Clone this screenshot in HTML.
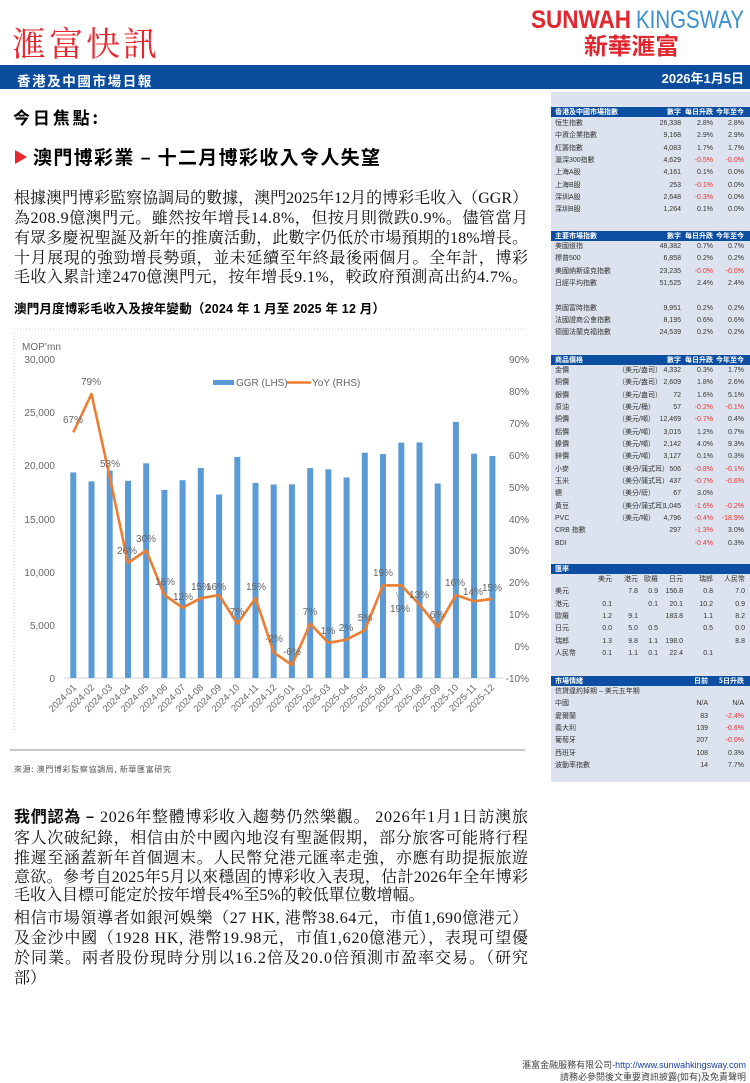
<!DOCTYPE html>
<html><head><meta charset="utf-8">
<style>
*{margin:0;padding:0;box-sizing:border-box}
body{width:750px;height:1083px;position:relative;background:#fff;font-family:"Liberation Sans","Noto Sans CJK TC",sans-serif;overflow:hidden}
.abs{position:absolute}
.sb{position:absolute;left:551px;top:92px;width:199px;height:690px;background:#dde3ee}
.t{position:absolute;left:0;width:199px}
.h{height:10px;background:#0b4ea2;color:#fff;font-weight:bold;font-size:7px;line-height:10px;position:relative;font-family:"Noto Sans CJK TC","Liberation Sans",sans-serif}
.r{height:12.35px;position:relative;font-size:7px;line-height:12.35px;color:#333;font-family:"Liberation Sans","Noto Sans CJK TC",sans-serif}
.t span{position:absolute;white-space:nowrap}
.n{left:4px}.u{left:67px}.a{right:69px}.b{right:37px}.c{right:6px}
.c1{right:138px}.c2{right:112px}.c3{right:92px}.c4{right:67px}.c5{right:37px}.c6{right:5px}
.d{right:42px}
.m{color:#f03030}
</style></head><body>

<!-- header -->
<div class="abs" style="left:12px;top:22px;font-family:'Noto Serif CJK SC',serif;font-size:34px;color:#e8262e;letter-spacing:3px;line-height:40px">滙富快訊</div>
<svg class="abs" style="left:0;top:0" width="750" height="92">
<text x="531" y="28" font-family="Liberation Sans,sans-serif" font-weight="bold" font-size="25" fill="#e0262e" textLength="100" lengthAdjust="spacingAndGlyphs">SUNWAH</text>
<text x="636" y="28" font-family="Liberation Sans,sans-serif" font-size="25" fill="#3a8fd0" textLength="108" lengthAdjust="spacingAndGlyphs">KINGSWAY</text>
<text x="584" y="54" font-family="Noto Sans CJK TC,sans-serif" font-weight="bold" font-size="23" fill="#e0262e" textLength="95" lengthAdjust="spacingAndGlyphs">新華滙富</text>
</svg>
<div class="abs" style="left:0;top:65px;width:750px;height:24px;background:#0b4c9c"></div>
<div class="abs" style="left:17px;top:72px;color:#fff;font-weight:bold;font-size:13.5px;letter-spacing:1.6px;line-height:16px;font-family:'Noto Sans CJK TC',sans-serif">香港及中國市場日報</div>
<div class="abs" style="right:6px;top:70px;color:#fff;font-weight:bold;font-size:13px;line-height:18px;font-family:'Liberation Sans','Noto Sans CJK TC',sans-serif">2026年1月5日</div>

<!-- headings & text -->
<svg class="abs" style="left:0;top:0" width="550" height="1083">
<text x="13" y="124" font-family="Noto Sans CJK TC,sans-serif" font-weight="bold" font-size="17" fill="#000" textLength="85" lengthAdjust="spacing">今日焦點:</text>
<polygon points="15,150 27,157 15,164" fill="#e8262e"/>
<text x="33" y="164" font-family="Noto Sans CJK TC,sans-serif" font-weight="bold" font-size="19" fill="#000" textLength="347" lengthAdjust="spacing">澳門博彩業 – 十二月博彩收入令人失望</text>
<g font-family="Liberation Serif,Noto Serif CJK SC,serif" font-size="16" fill="#111">
<text x="14" y="203" textLength="514" lengthAdjust="spacing">根據澳門博彩監察協調局的數據，澳門2025年12月的博彩毛收入（GGR）</text>
<text x="14" y="223" textLength="514" lengthAdjust="spacing">為208.9億澳門元。雖然按年增長14.8%，但按月則微跌0.9%。儘管當月</text>
<text x="14" y="243" textLength="514" lengthAdjust="spacing">有眾多慶祝聖誕及新年的推廣活動，此數字仍低於市場預期的18%增長。</text>
<text x="14" y="263" textLength="514" lengthAdjust="spacing">十月展現的強勁增長勢頭，並未延續至年終最後兩個月。全年計，博彩</text>
<text x="14" y="282" textLength="514" lengthAdjust="spacing">毛收入累計達2470億澳門元，按年增長9.1%，較政府預測高出約4.7%。</text>
<text x="14" y="822" textLength="514" lengthAdjust="spacing"><tspan font-weight="bold" font-family="Noto Sans CJK TC,sans-serif">我們認為 –</tspan> 2026年整體博彩收入趨勢仍然樂觀。 2026年1月1日訪澳旅</text>
<text x="14" y="843" textLength="514" lengthAdjust="spacing">客人次破紀錄，相信由於中國內地沒有聖誕假期，部分旅客可能將行程</text>
<text x="14" y="863" textLength="514" lengthAdjust="spacing">推遲至涵蓋新年首個週末。人民幣兌港元匯率走強，亦應有助提振旅遊</text>
<text x="14" y="882" textLength="514" lengthAdjust="spacing">意欲。參考自2025年5月以來穩固的博彩收入表現，估計2026年全年博彩</text>
<text x="14" y="900">毛收入目標可能定於按年增長4%至5%的較低單位數增幅。</text>
<text x="14" y="923" textLength="514" lengthAdjust="spacing">相信市場領導者如銀河娛樂（27 HK, 港幣38.64元，市值1,690億港元）</text>
<text x="14" y="943" textLength="514" lengthAdjust="spacing">及金沙中國（1928 HK, 港幣19.98元，市值1,620億港元），表現可望優</text>
<text x="14" y="963" textLength="514" lengthAdjust="spacing">於同業。兩者股份現時分別以16.2倍及20.0倍預測市盈率交易。（研究</text>
<text x="14" y="983">部）</text>
</g>
<text x="14" y="313" font-family="Liberation Sans,Noto Sans CJK TC,sans-serif" font-weight="bold" font-size="12.5" fill="#000" textLength="371" lengthAdjust="spacing">澳門月度博彩毛收入及按年變動（2024 年 1 月至 2025 年 12 月）</text>

<!-- chart frame -->
<line x1="14" y1="329" x2="525" y2="329" stroke="#ccc" stroke-dasharray="1,2"/>
<line x1="14" y1="333" x2="14" y2="735" stroke="#ccc" stroke-dasharray="1,2"/>
<line x1="10" y1="750" x2="525" y2="750" stroke="#c8c8c8" stroke-width="2"/>
<text x="14" y="772" font-family="Noto Sans CJK TC,sans-serif" font-size="8" fill="#555" textLength="157" lengthAdjust="spacing">來源: 澳門博彩監察協調局, 新華匯富研究</text>

<g font-family="Liberation Sans,sans-serif" font-size="10" fill="#666">
<text x="22" y="350">MOP’mn</text>
<g text-anchor="end">
<text x="55" y="363">30,000</text><text x="55" y="416">25,000</text><text x="55" y="469">20,000</text>
<text x="55" y="523">15,000</text><text x="55" y="576">10,000</text><text x="55" y="629">5,000</text><text x="55" y="682">0</text>
<text x="529" y="363">90%</text><text x="529" y="395">80%</text><text x="529" y="427">70%</text><text x="529" y="459">60%</text>
<text x="529" y="491">50%</text><text x="529" y="523">40%</text><text x="529" y="554">30%</text><text x="529" y="586">20%</text>
<text x="529" y="618">10%</text><text x="529" y="650">0%</text><text x="529" y="682">-10%</text>
</g>
</g>
<line x1="64" y1="678" x2="503" y2="678" stroke="#d0d0d0"/>
<!-- legend -->
<rect x="213" y="380" width="21" height="5" fill="#5b9bd5"/>
<text x="236" y="386" font-family="Liberation Sans,sans-serif" font-size="10" fill="#666">GGR (LHS)</text>
<line x1="287" y1="382.5" x2="311" y2="382.5" stroke="#ed7d31" stroke-width="2.5"/>
<text x="312" y="386" font-family="Liberation Sans,sans-serif" font-size="10" fill="#666">YoY (RHS)</text>
<!-- bars -->
<g fill="#5b9bd5">
<rect x="70.3" y="472.4" width="6" height="205.6"/>
<rect x="88.5" y="481.4" width="6" height="196.6"/>
<rect x="106.7" y="470.6" width="6" height="207.4"/>
<rect x="125" y="480.8" width="6" height="197.2"/>
<rect x="143.2" y="463.3" width="6" height="214.7"/>
<rect x="161.4" y="489.9" width="6" height="188.1"/>
<rect x="179.6" y="480.2" width="6" height="197.8"/>
<rect x="197.8" y="467.9" width="6" height="210.1"/>
<rect x="216.1" y="494.5" width="6" height="183.5"/>
<rect x="234.3" y="456.9" width="6" height="221.1"/>
<rect x="252.5" y="482.9" width="6" height="195.1"/>
<rect x="270.7" y="484.5" width="6" height="193.5"/>
<rect x="288.9" y="484.3" width="6" height="193.7"/>
<rect x="307.2" y="468.1" width="6" height="209.9"/>
<rect x="325.4" y="469.3" width="6" height="208.7"/>
<rect x="343.6" y="477.5" width="6" height="200.5"/>
<rect x="361.8" y="452.7" width="6" height="225.3"/>
<rect x="380" y="454.1" width="6" height="223.9"/>
<rect x="398.3" y="442.7" width="6" height="235.3"/>
<rect x="416.5" y="442.4" width="6" height="235.6"/>
<rect x="434.7" y="483.5" width="6" height="194.5"/>
<rect x="452.9" y="421.9" width="6" height="256.1"/>
<rect x="471.1" y="453.7" width="6" height="224.3"/>
<rect x="489.4" y="456" width="6" height="222"/>
</g>
<polyline fill="none" stroke="#ed7d31" stroke-width="2.6" stroke-linejoin="round" points="73.3,432.3 91.5,394 109.7,476.9 128,563.1 146.2,550.3 164.4,595 182.6,607.7 200.8,598.2 219.1,595 237.3,623.7 255.5,598.2 273.7,652.4 291.9,665.1 310.2,623.7 328.4,642.8 346.6,639.6 364.8,630.1 383,585.4 401.3,585.4 419.5,604.5 437.7,626.9 455.9,595 474.1,601.3 492.4,598.8"/>
<line x1="396" y1="592" x2="399" y2="600" stroke="#999" stroke-width="0.7"/>
<g font-family="Liberation Sans,sans-serif" font-size="10" fill="#666" text-anchor="middle">
<text x="73" y="423">67%</text><text x="91" y="385">79%</text><text x="110" y="467">53%</text>
<text x="127" y="554">26%</text><text x="146" y="542">30%</text><text x="165" y="585">16%</text>
<text x="183" y="600">12%</text><text x="201" y="590">15%</text><text x="216" y="590">16%</text>
<text x="237" y="615">7%</text><text x="256" y="590">15%</text><text x="274" y="642">-2%</text>
<text x="292" y="655">-6%</text><text x="310" y="615">7%</text><text x="328" y="634">1%</text>
<text x="346" y="631">2%</text><text x="365" y="621">5%</text><text x="383" y="576">19%</text>
<text x="400" y="612">19%</text><text x="419" y="598">13%</text><text x="437" y="618">6%</text>
<text x="455" y="586">16%</text><text x="473" y="595">14%</text><text x="492" y="591">15%</text>
</g>
<g font-family="Liberation Sans,sans-serif" font-size="9.5" fill="#666" text-anchor="end">
<text transform="translate(77,688) rotate(-45)">2024-01</text>
<text transform="translate(95,688) rotate(-45)">2024-02</text>
<text transform="translate(113,688) rotate(-45)">2024-03</text>
<text transform="translate(131,688) rotate(-45)">2024-04</text>
<text transform="translate(149,688) rotate(-45)">2024-05</text>
<text transform="translate(168,688) rotate(-45)">2024-06</text>
<text transform="translate(186,688) rotate(-45)">2024-07</text>
<text transform="translate(204,688) rotate(-45)">2024-08</text>
<text transform="translate(222,688) rotate(-45)">2024-09</text>
<text transform="translate(240,688) rotate(-45)">2024-10</text>
<text transform="translate(259,688) rotate(-45)">2024-11</text>
<text transform="translate(277,688) rotate(-45)">2024-12</text>
<text transform="translate(295,688) rotate(-45)">2025-01</text>
<text transform="translate(313,688) rotate(-45)">2025-02</text>
<text transform="translate(331,688) rotate(-45)">2025-03</text>
<text transform="translate(350,688) rotate(-45)">2025-04</text>
<text transform="translate(368,688) rotate(-45)">2025-05</text>
<text transform="translate(386,688) rotate(-45)">2025-06</text>
<text transform="translate(404,688) rotate(-45)">2025-07</text>
<text transform="translate(423,688) rotate(-45)">2025-08</text>
<text transform="translate(441,688) rotate(-45)">2025-09</text>
<text transform="translate(459,688) rotate(-45)">2025-10</text>
<text transform="translate(477,688) rotate(-45)">2025-11</text>
<text transform="translate(495,688) rotate(-45)">2025-12</text>
</g>
</svg>

<!-- sidebar -->
<div class="sb">
<div class="t" style="top:15px">
<div class="h"><span class="n">香港及中國市場指數</span><span class="a">數字</span><span class="b">每日升跌</span><span class="c">今年至今</span></div>
<div style="height:1px"></div>
<div class="r"><span class="n">恒生指數</span><span class="a">26,338</span><span class="b">2.8%</span><span class="c">2.8%</span></div>
<div class="r"><span class="n">中資企業指數</span><span class="a">9,168</span><span class="b">2.9%</span><span class="c">2.9%</span></div>
<div class="r"><span class="n">紅籌指數</span><span class="a">4,083</span><span class="b">1.7%</span><span class="c">1.7%</span></div>
<div class="r"><span class="n">滬深300指數</span><span class="a">4,629</span><span class="b m">-0.5%</span><span class="c m">-0.0%</span></div>
<div class="r"><span class="n">上海A股</span><span class="a">4,161</span><span class="b">0.1%</span><span class="c">0.0%</span></div>
<div class="r"><span class="n">上海B股</span><span class="a">253</span><span class="b m">-0.1%</span><span class="c">0.0%</span></div>
<div class="r"><span class="n">深圳A股</span><span class="a">2,648</span><span class="b m">-0.3%</span><span class="c">0.0%</span></div>
<div class="r"><span class="n">深圳B股</span><span class="a">1,264</span><span class="b">0.1%</span><span class="c">0.0%</span></div>
</div>
<div class="t" style="top:139px">
<div class="h"><span class="n">主要市場指數</span><span class="a">數字</span><span class="b">每日升跌</span><span class="c">今年至今</span></div>
<div class="r"><span class="n">美國道指</span><span class="a">48,382</span><span class="b">0.7%</span><span class="c">0.7%</span></div>
<div class="r"><span class="n">標普500</span><span class="a">6,858</span><span class="b">0.2%</span><span class="c">0.2%</span></div>
<div class="r"><span class="n">美國納斯達克指數</span><span class="a">23,235</span><span class="b m">-0.0%</span><span class="c m">-0.0%</span></div>
<div class="r"><span class="n">日經平均指數</span><span class="a">51,525</span><span class="b">2.4%</span><span class="c">2.4%</span></div>
<div class="r"></div>
<div class="r"><span class="n">英國富時指數</span><span class="a">9,951</span><span class="b">0.2%</span><span class="c">0.2%</span></div>
<div class="r"><span class="n">法國證商公會指數</span><span class="a">8,195</span><span class="b">0.6%</span><span class="c">0.6%</span></div>
<div class="r"><span class="n">德國法蘭克福指數</span><span class="a">24,539</span><span class="b">0.2%</span><span class="c">0.2%</span></div>
</div>
<div class="t" style="top:263px">
<div class="h"><span class="n">商品價格</span><span class="a">數字</span><span class="b">每日升跌</span><span class="c">今年至今</span></div>
<div class="r"><span class="n">金價</span><span class="u">（美元/盎司）</span><span class="a">4,332</span><span class="b">0.3%</span><span class="c">1.7%</span></div>
<div class="r"><span class="n">銅價</span><span class="u">（美元/盎司）</span><span class="a">2,609</span><span class="b">1.8%</span><span class="c">2.6%</span></div>
<div class="r"><span class="n">銀價</span><span class="u">（美元/盎司）</span><span class="a">72</span><span class="b">1.6%</span><span class="c">5.1%</span></div>
<div class="r"><span class="n">原油</span><span class="u">（美元/桶）</span><span class="a">57</span><span class="b m">-0.2%</span><span class="c m">-0.1%</span></div>
<div class="r"><span class="n">銅價</span><span class="u">（美元/噸）</span><span class="a">12,469</span><span class="b m">-0.7%</span><span class="c">0.4%</span></div>
<div class="r"><span class="n">鋁價</span><span class="u">（美元/噸）</span><span class="a">3,015</span><span class="b">1.2%</span><span class="c">0.7%</span></div>
<div class="r"><span class="n">鎳價</span><span class="u">（美元/噸）</span><span class="a">2,142</span><span class="b">4.0%</span><span class="c">9.3%</span></div>
<div class="r"><span class="n">鋅價</span><span class="u">（美元/噸）</span><span class="a">3,127</span><span class="b">0.1%</span><span class="c">0.3%</span></div>
<div class="r"><span class="n">小麥</span><span class="u">（美分/蒲式耳）</span><span class="a">506</span><span class="b m">-0.8%</span><span class="c m">-0.1%</span></div>
<div class="r"><span class="n">玉米</span><span class="u">（美分/蒲式耳）</span><span class="a">437</span><span class="b m">-0.7%</span><span class="c m">-0.6%</span></div>
<div class="r"><span class="n">糖</span><span class="u">（美分/磅）</span><span class="a">67</span><span class="b">3.0%</span></div>
<div class="r"><span class="n">黃豆</span><span class="u">（美分/蒲式耳）</span><span class="a">1,045</span><span class="b m">-1.6%</span><span class="c m">-0.2%</span></div>
<div class="r"><span class="n">PVC</span><span class="u">（美元/噸）</span><span class="a">4,796</span><span class="b m">-0.4%</span><span class="c m">-18.9%</span></div>
<div class="r"><span class="n">CRB 指數</span><span class="a">297</span><span class="b m">-1.3%</span><span class="c">3.0%</span></div>
<div class="r"><span class="n">BDI</span><span class="b m">-0.4%</span><span class="c">0.3%</span></div>
</div>
<div class="t" style="top:472px">
<div class="h"><span class="n">匯率</span></div>
<div class="r"><span class="c1">美元</span><span class="c2">港元</span><span class="c3">歐羅</span><span class="c4">日元</span><span class="c5">瑞郎</span><span class="c6">人民幣</span></div>
<div class="r"><span class="n">美元</span><span class="c2">7.8</span><span class="c3">0.9</span><span class="c4">156.8</span><span class="c5">0.8</span><span class="c6">7.0</span></div>
<div class="r"><span class="n">港元</span><span class="c1">0.1</span><span class="c3">0.1</span><span class="c4">20.1</span><span class="c5">10.2</span><span class="c6">0.9</span></div>
<div class="r"><span class="n">歐羅</span><span class="c1">1.2</span><span class="c2">9.1</span><span class="c4">183.8</span><span class="c5">1.1</span><span class="c6">8.2</span></div>
<div class="r"><span class="n">日元</span><span class="c1">0.0</span><span class="c2">5.0</span><span class="c3">0.5</span><span class="c5">0.5</span><span class="c6">0.0</span></div>
<div class="r"><span class="n">瑞郎</span><span class="c1">1.3</span><span class="c2">9.8</span><span class="c3">1.1</span><span class="c4">198.0</span><span class="c6">8.8</span></div>
<div class="r"><span class="n">人民幣</span><span class="c1">0.1</span><span class="c2">1.1</span><span class="c3">0.1</span><span class="c4">22.4</span><span class="c5">0.1</span></div>
</div>
<div class="t" style="top:584px">
<div class="h"><span class="n">市場情緒</span><span class="d">日前</span><span class="c">5日升跌</span></div>
<div class="r"><span class="n">信貸違約掉期 – 美元五年期</span></div>
<div class="r"><span class="n">中國</span><span class="d">N/A</span><span class="c">N/A</span></div>
<div class="r"><span class="n">愛爾蘭</span><span class="d">83</span><span class="c m">-2.4%</span></div>
<div class="r"><span class="n">義大利</span><span class="d">139</span><span class="c m">-0.6%</span></div>
<div class="r"><span class="n">葡萄牙</span><span class="d">207</span><span class="c m">-0.0%</span></div>
<div class="r"><span class="n">西班牙</span><span class="d">108</span><span class="c">0.3%</span></div>
<div class="r"><span class="n">波動率指數</span><span class="d">14</span><span class="c">7.7%</span></div>
</div>
</div>

<!-- footer -->
<div class="abs" style="right:4px;top:1059px;font-size:9px;line-height:12px;color:#444;text-align:right;font-family:'Liberation Sans','Noto Sans CJK TC',sans-serif">滙富金融服務有限公司-<span style="color:#1a3fa0">http://www.sunwahkingsway.com</span><br>請務必參閱後文重要資訊披露(如有)及免責聲明</div>
</body></html>
